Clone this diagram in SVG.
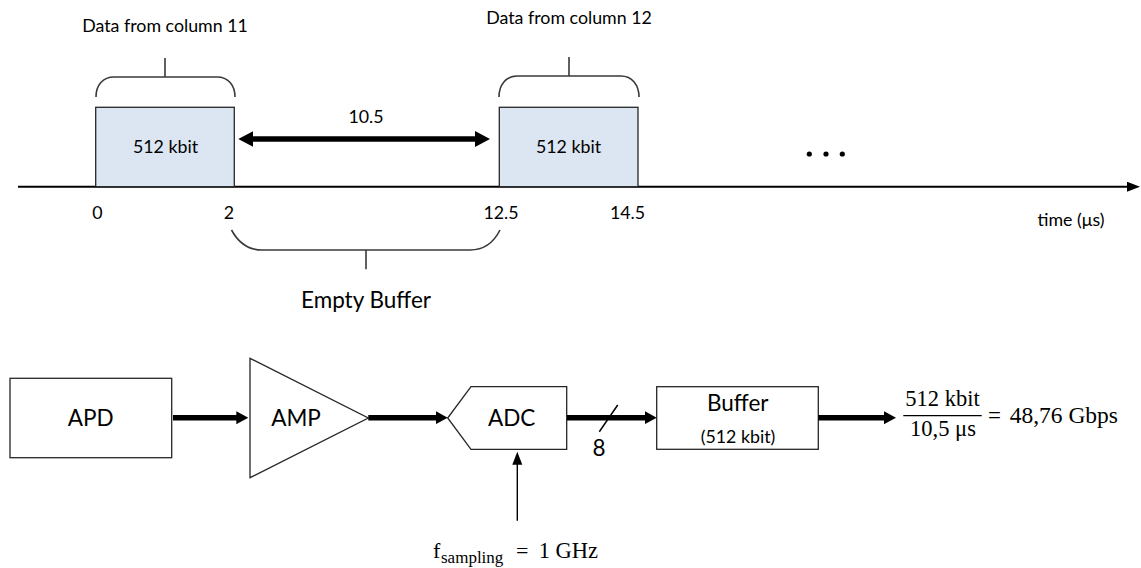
<svg xmlns="http://www.w3.org/2000/svg" width="1141" height="568" viewBox="0 0 1141 568">
  <style>
    .lbl { font-family: Lato, "Open Sans", "Liberation Sans", sans-serif; fill: #000; }
    .sm { font-size: 17.8px; }
    .md { font-size: 22.5px; }
    .math { font-family: "Liberation Serif", "DejaVu Serif", serif; fill: #000; }
    .blk { fill: #dce6f2; stroke: #262626; stroke-width: 1.3; }
    .box { fill: #fff; stroke: #262626; stroke-width: 1.3; }
    .brace { fill: none; stroke: #3a3a3a; stroke-width: 1.6; }
    .thick { stroke: #000; stroke-width: 5.5; fill: none; }
  </style>
  <defs>
    <marker id="headThick" markerUnits="userSpaceOnUse" markerWidth="13" markerHeight="13" refX="1" refY="6.5" orient="auto">
      <path d="M0,0 L12,6.5 L0,13 z" fill="#000"/>
    </marker>
    <marker id="headDouble" markerUnits="userSpaceOnUse" markerWidth="16" markerHeight="16" refX="1" refY="8" orient="auto-start-reverse">
      <path d="M0,0 L15,8 L0,16 z" fill="#000"/>
    </marker>
    <marker id="headThin" markerUnits="userSpaceOnUse" markerWidth="13" markerHeight="11" refX="1" refY="5" orient="auto">
      <path d="M0,0 L13,5 L0,10 z" fill="#000"/>
    </marker>
  </defs>

  <!-- time axis -->
  <g id="time-axis">
    <line x1="18" y1="186.7" x2="1128" y2="186.7" stroke="#000" stroke-width="2" marker-end="url(#headThin)"/>
    <text class="lbl sm" x="1071" y="226" text-anchor="middle">time (μs)</text>
    <text class="lbl sm" x="97.5" y="219.3" text-anchor="middle">0</text>
    <text class="lbl sm" x="229" y="219.3" text-anchor="middle">2</text>
    <text class="lbl sm" x="501" y="219.3" text-anchor="middle">12.5</text>
    <text class="lbl sm" x="627.5" y="219.3" text-anchor="middle">14.5</text>
    <circle cx="809.3" cy="154" r="2.6"/>
    <circle cx="826" cy="154" r="2.6"/>
    <circle cx="842.3" cy="154" r="2.6"/>
  </g>

  <!-- data block of column 11 -->
  <g id="block-col11">
    <rect class="blk" x="95.7" y="107.3" width="138.6" height="79.4"/>
    <text class="lbl sm" x="165.5" y="153" text-anchor="middle">512 kbit</text>
    <path class="brace" d="M96,97 C96,85 103,77 114,77 H217 C228,77 235,85 235,97 M165,77 V58"/>
    <text class="lbl sm" x="165" y="32" text-anchor="middle">Data from column 11</text>
  </g>

  <!-- data block of column 12 -->
  <g id="block-col12">
    <rect class="blk" x="499.3" y="107.3" width="138.7" height="79.4"/>
    <text class="lbl sm" x="568.5" y="153" text-anchor="middle">512 kbit</text>
    <path class="brace" d="M499,97 C499,85 506,76 517,76 H621 C632,76 639,85 639,97 M569,76 V57"/>
    <text class="lbl sm" x="569" y="24" text-anchor="middle">Data from column 12</text>
  </g>

  <!-- gap between blocks -->
  <g id="gap">
    <line class="thick" x1="252.3" y1="139" x2="476" y2="139" stroke-width="6" marker-start="url(#headDouble)" marker-end="url(#headDouble)"/>
    <text class="lbl sm" x="366" y="123.3" text-anchor="middle">10.5</text>
    <path class="brace" d="M231.5,230 C238,242 248,250 262,250 H470 C484,250 494,242 500,230 M366,250 V269.3"/>
    <text class="lbl md" x="366" y="308.3" text-anchor="middle">Empty Buffer</text>
  </g>

  <!-- receiver chain -->
  <g id="apd">
    <rect class="box" x="10" y="378.3" width="161.7" height="79.4"/>
    <text class="lbl md" x="90.8" y="426" text-anchor="middle">APD</text>
  </g>
  <g id="amp">
    <polygon class="box" points="250,358.3 368.3,418 250,477.7"/>
    <text class="lbl md" x="296" y="426" text-anchor="middle">AMP</text>
  </g>
  <g id="adc">
    <polygon class="box" points="447.7,418 471,386.7 566.7,386.7 566.7,449.3 471,449.3"/>
    <text class="lbl md" x="511.7" y="426" text-anchor="middle">ADC</text>
  </g>
  <g id="buffer">
    <rect class="box" x="656.7" y="386.7" width="161.6" height="62.6"/>
    <text class="lbl md" x="737.7" y="411" text-anchor="middle">Buffer</text>
    <text class="lbl sm" x="738" y="442.7" text-anchor="middle">(512 kbit)</text>
  </g>

  <!-- connectors -->
  <g id="connectors">
    <line class="thick" x1="173" y1="417.7" x2="237.3" y2="417.7" marker-end="url(#headThick)"/>
    <line class="thick" x1="368.3" y1="417.7" x2="436.7" y2="417.7" marker-end="url(#headThick)"/>
    <line class="thick" x1="567" y1="417.7" x2="645.7" y2="417.7" marker-end="url(#headThick)"/>
    <line x1="617.7" y1="405" x2="599.3" y2="431.7" stroke="#000" stroke-width="1.5"/>
    <line class="thick" x1="818.3" y1="417.7" x2="885" y2="417.7" marker-end="url(#headThick)"/>
    <line x1="517.3" y1="520.7" x2="517.3" y2="463.7" stroke="#000" stroke-width="1.4" marker-end="url(#headThin)"/>
  </g>

  <!-- bus width label -->
  <g id="bus-width">
    <text class="lbl md" x="599" y="456" text-anchor="middle">8</text>
  </g>

  <!-- output data rate -->
  <g id="rate">
    <text class="math" font-size="22.5" x="942.5" y="406" text-anchor="middle">512 kbit</text>
    <line x1="903.3" y1="415.7" x2="981.7" y2="415.7" stroke="#000" stroke-width="1.3"/>
    <text class="math" font-size="22.5" x="943" y="436" text-anchor="middle">10,5 μs</text>
    <text class="math" font-size="23" x="988" y="423">=</text>
    <text class="math" font-size="23.5" x="1118" y="423" text-anchor="end">48,76 Gbps</text>
  </g>

  <!-- sampling clock -->
  <g id="sampling">
    <text class="math" font-size="22" x="433" y="558">f</text>
    <text class="math" font-size="17" x="441" y="562.5">sampling</text>
    <text class="math" font-size="22" x="516" y="558">=</text>
    <text class="math" font-size="22.5" x="598" y="558" text-anchor="end">1 GHz</text>
  </g>
</svg>
